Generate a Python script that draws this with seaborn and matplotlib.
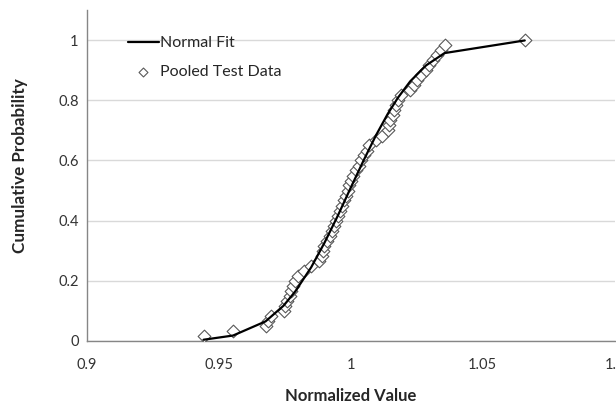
import matplotlib
matplotlib.use("Agg")
import matplotlib.pyplot as plt
import pandas as pd
import seaborn as sns

# pooled test data (normalized value vs empirical cumulative probability)
data_x = [0.9442, 0.9554, 0.9677, 0.9685, 0.9698, 0.9745, 0.9752, 0.9760, 0.9768, 0.9772,
          0.9780, 0.9790, 0.9800, 0.9822, 0.9850, 0.9880, 0.9890, 0.9895, 0.9900, 0.9908,
          0.9920, 0.9928, 0.9935, 0.9942, 0.9950, 0.9958, 0.9965, 0.9975, 0.9982, 0.9988,
          0.9995, 1.0002, 1.0010, 1.0018, 1.0030, 1.0040, 1.0050, 1.0060, 1.0070, 1.0095,
          1.0120, 1.0140, 1.0145, 1.0150, 1.0158, 1.0165, 1.0170, 1.0178, 1.0190, 1.0225,
          1.0240, 1.0250, 1.0265, 1.0285, 1.0295, 1.0310, 1.0325, 1.0340, 1.0355, 1.0659]
data_y = [0.017, 0.033, 0.050, 0.067, 0.083, 0.100, 0.117, 0.133, 0.150, 0.167,
          0.183, 0.200, 0.217, 0.233, 0.250, 0.267, 0.283, 0.300, 0.317, 0.333,
          0.350, 0.367, 0.383, 0.400, 0.417, 0.433, 0.450, 0.467, 0.483, 0.500,
          0.517, 0.533, 0.550, 0.567, 0.583, 0.600, 0.617, 0.633, 0.650, 0.667,
          0.683, 0.700, 0.717, 0.733, 0.750, 0.767, 0.783, 0.800, 0.817, 0.833,
          0.850, 0.867, 0.883, 0.900, 0.917, 0.933, 0.950, 0.967, 0.983, 1.000]

# normal fit curve
fit_x = [0.9442, 0.9554, 0.9677, 0.9745, 0.9790, 0.9850, 0.9900, 0.9950, 1.0000,
         1.0050, 1.0095, 1.0140, 1.0178, 1.0225, 1.0285, 1.0355, 1.0659]
fit_y = [0.004, 0.018, 0.065, 0.117, 0.165, 0.245, 0.326, 0.415, 0.510,
         0.603, 0.683, 0.755, 0.808, 0.863, 0.916, 0.957, 0.999]

df_data = pd.DataFrame({"x": data_x, "y": data_y})
df_fit = pd.DataFrame({"x": fit_x, "y": fit_y})

sns.set_style("white")
plt.rcParams["font.family"] = ["Lato", "DejaVu Sans"]

fig = plt.figure(figsize=(6.16, 4.03), dpi=100)
ax = fig.add_axes([0.141, 0.154, 0.857, 0.821])

sns.scatterplot(data=df_data, x="x", y="y", ax=ax, marker="D", s=42,
                facecolor="white", edgecolor="#595959", linewidth=0.8,
                label="Pooled Test Data", zorder=3)
sns.lineplot(data=df_fit, x="x", y="y", ax=ax, color="black", linewidth=1.6,
             label="Normal Fit", zorder=4, sort=False)

ax.set_xlim(0.9, 1.1)
ax.set_ylim(0, 1.1)
ax.set_xticks([0.9, 0.95, 1.0, 1.05, 1.1])
ax.set_xticklabels(["0.9", "0.95", "1", "1.05", "1.1"])
ax.set_yticks([0, 0.2, 0.4, 0.6, 0.8, 1.0])
ax.set_yticklabels(["0", "0.2", "0.4", "0.6", "0.8", "1"])
ax.yaxis.grid(True, color="#d9d9d9", linewidth=1)
ax.set_axisbelow(True)

for s in ["top", "right"]:
    ax.spines[s].set_visible(False)
for s in ["left", "bottom"]:
    ax.spines[s].set_color("#868686")
    ax.spines[s].set_linewidth(1)

ax.tick_params(axis="x", length=0, pad=12, labelsize=10.5, colors="#333333")
ax.tick_params(axis="y", length=0, pad=6, labelsize=10.5, colors="#333333")

ax.set_xlabel("Normalized Value", fontsize=12, fontweight="bold", labelpad=12)
ax.set_ylabel("Cumulative Probability", fontsize=12.3, fontweight="bold")
ax.yaxis.set_label_coords(-0.112, 0.529)

handles, labels = ax.get_legend_handles_labels()
order = [labels.index("Normal Fit"), labels.index("Pooled Test Data")]
ax.legend([handles[i] for i in order], [labels[i] for i in order],
          loc="upper left", bbox_to_anchor=(0.05, 0.965), frameon=False,
          fontsize=11.5, handlelength=1.95, handletextpad=0.1, labelspacing=0.9,
          markerscale=0.7)

fig.savefig("out.png", dpi=100)
